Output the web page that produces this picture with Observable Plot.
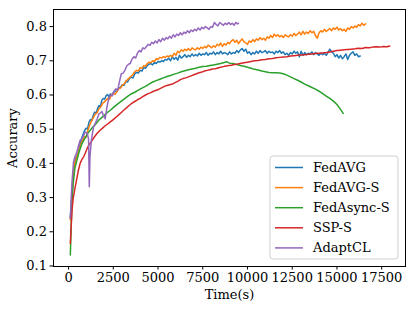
<!DOCTYPE html>
<html><head><meta charset="utf-8">
<script src="https://cdn.jsdelivr.net/npm/d3@7"></script>
<script src="https://cdn.jsdelivr.net/npm/@observablehq/plot@0.6"></script>
<style>body{margin:0;background:#fff} #chart{width:415px;height:311px}</style>
</head><body><div id="chart"></div>
<script>
const seriesNames = ["FedAVG", "FedAVG-S", "FedAsync-S", "SSP-S", "AdaptCL"];
const seriesColors = ["#1f77b4", "#ff7f0e", "#2ca02c", "#d62728", "#9467bd"];
const xTicks = [0, 2500, 5000, 7500, 10000, 12500, 15000, 17500];
const yTicks = [0.1, 0.2, 0.3, 0.4, 0.5, 0.6, 0.7, 0.8];

// [time (s), accuracy]
const fedAVG = [[100,0.240],[180,0.300],[260,0.360],[340,0.400],[420,0.418],[500,0.425],[580,0.440],[660,0.458],[740,0.474],[820,0.486],[900,0.497],[980,0.503],[1060,0.500],[1140,0.520],[1220,0.528],[1300,0.526],[1380,0.540],[1460,0.550],[1540,0.546],[1620,0.560],[1700,0.569],[1780,0.566],[1860,0.585],[1940,0.590],[2020,0.588],[2100,0.598],[2180,0.601],[2260,0.595],[2340,0.603],[2420,0.600],[2500,0.607],[2600,0.612],[2700,0.610],[2800,0.620],[2900,0.622],[3000,0.630],[3100,0.628],[3200,0.640],[3300,0.638],[3400,0.648],[3500,0.652],[3600,0.650],[3700,0.662],[3800,0.666],[3900,0.664],[4000,0.672],[4100,0.670],[4200,0.680],[4300,0.678],[4400,0.686],[4500,0.690],[4600,0.692],[4700,0.688],[4800,0.695],[4900,0.692],[5000,0.698],[5100,0.696],[5200,0.700],[5300,0.698],[5400,0.704],[5500,0.702],[5600,0.708],[5700,0.700],[5800,0.712],[5900,0.704],[6000,0.710],[6100,0.702],[6200,0.716],[6300,0.708],[6400,0.712],[6500,0.718],[6600,0.710],[6700,0.716],[6800,0.712],[6900,0.720],[7000,0.714],[7100,0.718],[7200,0.714],[7300,0.722],[7400,0.716],[7500,0.720],[7600,0.718],[7700,0.724],[7800,0.716],[7900,0.722],[8000,0.720],[8100,0.726],[8200,0.718],[8300,0.724],[8400,0.720],[8500,0.728],[8600,0.720],[8700,0.724],[8800,0.722],[8900,0.718],[9000,0.726],[9100,0.720],[9200,0.724],[9300,0.722],[9400,0.730],[9500,0.724],[9600,0.732],[9700,0.736],[9800,0.728],[9900,0.734],[10000,0.722],[10100,0.726],[10200,0.718],[10300,0.724],[10400,0.720],[10500,0.728],[10600,0.722],[10700,0.730],[10800,0.724],[10900,0.726],[11000,0.730],[11100,0.722],[11200,0.728],[11300,0.724],[11400,0.726],[11500,0.720],[11600,0.728],[11700,0.724],[11800,0.730],[11900,0.722],[12000,0.726],[12100,0.718],[12200,0.722],[12300,0.716],[12400,0.724],[12500,0.720],[12600,0.728],[12700,0.722],[12800,0.726],[12900,0.712],[13000,0.728],[13100,0.716],[13200,0.724],[13300,0.718],[13400,0.722],[13500,0.720],[13600,0.726],[13700,0.718],[13800,0.724],[13900,0.720],[14000,0.716],[14100,0.722],[14200,0.718],[14300,0.722],[14400,0.716],[14500,0.724],[14600,0.734],[14700,0.726],[14800,0.722],[14900,0.712],[15000,0.718],[15100,0.708],[15200,0.716],[15300,0.706],[15400,0.712],[15500,0.720],[15600,0.704],[15700,0.716],[15800,0.722],[15900,0.726],[16000,0.716],[16100,0.720],[16200,0.712],[16300,0.714]];

const fedAVGS = [[100,0.235],[180,0.300],[260,0.360],[340,0.400],[420,0.412],[500,0.425],[600,0.440],[700,0.458],[800,0.468],[900,0.478],[1000,0.478],[1100,0.500],[1200,0.515],[1300,0.525],[1400,0.535],[1500,0.545],[1600,0.548],[1700,0.560],[1800,0.565],[1900,0.575],[2000,0.580],[2100,0.585],[2200,0.590],[2300,0.588],[2400,0.600],[2500,0.605],[2600,0.602],[2700,0.610],[2800,0.618],[2900,0.620],[3000,0.628],[3100,0.632],[3200,0.640],[3300,0.645],[3400,0.650],[3500,0.655],[3600,0.660],[3700,0.668],[3800,0.672],[3900,0.670],[4000,0.680],[4100,0.678],[4200,0.686],[4300,0.684],[4400,0.692],[4500,0.696],[4600,0.694],[4700,0.700],[4800,0.698],[4900,0.706],[5000,0.704],[5100,0.710],[5200,0.708],[5300,0.712],[5400,0.710],[5500,0.714],[5600,0.712],[5700,0.716],[5800,0.712],[5900,0.722],[6000,0.716],[6100,0.728],[6200,0.724],[6300,0.732],[6400,0.728],[6500,0.734],[6600,0.730],[6700,0.736],[6800,0.730],[6900,0.738],[7000,0.734],[7100,0.732],[7200,0.738],[7300,0.734],[7400,0.740],[7500,0.736],[7600,0.742],[7700,0.738],[7800,0.746],[7900,0.742],[8000,0.738],[8100,0.744],[8200,0.740],[8300,0.748],[8400,0.744],[8500,0.752],[8600,0.742],[8700,0.750],[8800,0.746],[8900,0.754],[9000,0.750],[9100,0.758],[9200,0.762],[9300,0.754],[9400,0.760],[9500,0.750],[9600,0.758],[9700,0.764],[9800,0.756],[9900,0.752],[10000,0.748],[10100,0.758],[10200,0.754],[10300,0.762],[10400,0.756],[10500,0.764],[10600,0.760],[10700,0.768],[10800,0.762],[10900,0.766],[11000,0.760],[11100,0.770],[11200,0.766],[11300,0.774],[11400,0.768],[11500,0.778],[11600,0.772],[11700,0.776],[11800,0.770],[11900,0.774],[12000,0.768],[12100,0.776],[12200,0.772],[12300,0.770],[12400,0.776],[12500,0.772],[12600,0.780],[12700,0.774],[12800,0.778],[12900,0.784],[13000,0.776],[13100,0.786],[13200,0.778],[13300,0.784],[13400,0.780],[13500,0.788],[13600,0.782],[13700,0.786],[13800,0.774],[13900,0.766],[14000,0.782],[14100,0.788],[14200,0.784],[14300,0.792],[14400,0.786],[14500,0.790],[14600,0.794],[14700,0.788],[14800,0.796],[14900,0.792],[15000,0.798],[15100,0.790],[15200,0.794],[15300,0.788],[15400,0.792],[15500,0.786],[15600,0.796],[15700,0.792],[15800,0.800],[15900,0.796],[16000,0.802],[16100,0.798],[16200,0.806],[16300,0.802],[16400,0.810],[16500,0.804],[16600,0.808]];

const fedAsyncS = [[100,0.132],[140,0.200],[190,0.290],[260,0.340],[350,0.385],[470,0.410],[600,0.435],[750,0.458],[900,0.472],[1100,0.490],[1300,0.503],[1500,0.514],[1700,0.527],[1900,0.536],[2100,0.546],[2300,0.554],[2500,0.563],[2700,0.572],[2900,0.580],[3100,0.588],[3300,0.596],[3500,0.603],[3700,0.608],[3900,0.614],[4100,0.620],[4300,0.625],[4500,0.632],[4700,0.638],[4900,0.642],[5100,0.646],[5300,0.650],[5500,0.654],[5700,0.657],[5900,0.661],[6100,0.664],[6300,0.668],[6500,0.671],[6700,0.674],[6900,0.676],[7100,0.678],[7300,0.681],[7500,0.683],[7700,0.684],[7900,0.686],[8100,0.688],[8300,0.690],[8500,0.692],[8700,0.695],[8850,0.697],[9000,0.693],[9200,0.692],[9400,0.689],[9600,0.686],[9800,0.684],[10000,0.681],[10200,0.678],[10400,0.675],[10600,0.673],[10800,0.670],[11000,0.668],[11200,0.666],[11400,0.665],[11600,0.665],[11800,0.664],[12000,0.662],[12200,0.658],[12400,0.653],[12600,0.648],[12800,0.643],[13000,0.638],[13200,0.632],[13400,0.627],[13600,0.622],[13800,0.617],[14000,0.611],[14200,0.604],[14400,0.597],[14600,0.590],[14800,0.582],[15000,0.572],[15200,0.558],[15350,0.546]];

const sspS = [[100,0.166],[150,0.220],[200,0.265],[260,0.298],[350,0.325],[450,0.352],[550,0.380],[650,0.400],[750,0.412],[850,0.420],[950,0.432],[1050,0.445],[1150,0.455],[1300,0.466],[1450,0.478],[1600,0.488],[1750,0.496],[1900,0.503],[2050,0.510],[2200,0.516],[2350,0.522],[2500,0.528],[2650,0.535],[2800,0.542],[2950,0.549],[3100,0.556],[3250,0.563],[3400,0.570],[3550,0.576],[3700,0.581],[3850,0.586],[4000,0.590],[4150,0.595],[4300,0.600],[4450,0.604],[4600,0.607],[4750,0.611],[4900,0.614],[5050,0.617],[5200,0.621],[5350,0.625],[5500,0.628],[5650,0.630],[5800,0.632],[5950,0.636],[6100,0.640],[6250,0.645],[6400,0.648],[6550,0.650],[6700,0.653],[6850,0.656],[7000,0.659],[7150,0.662],[7300,0.665],[7450,0.667],[7600,0.670],[7750,0.672],[7900,0.674],[8050,0.676],[8200,0.677],[8350,0.679],[8500,0.681],[8650,0.683],[8800,0.685],[8950,0.686],[9100,0.687],[9250,0.689],[9400,0.690],[9600,0.692],[9800,0.694],[10000,0.696],[10200,0.698],[10400,0.700],[10600,0.701],[10800,0.703],[11000,0.704],[11200,0.706],[11400,0.707],[11600,0.709],[11800,0.710],[12000,0.711],[12200,0.712],[12400,0.714],[12600,0.715],[12800,0.716],[13000,0.717],[13200,0.718],[13400,0.719],[13600,0.720],[13800,0.721],[14000,0.722],[14200,0.723],[14400,0.724],[14600,0.726],[14800,0.728],[15000,0.730],[15200,0.731],[15400,0.732],[15600,0.733],[15800,0.734],[16000,0.735],[16200,0.737],[16400,0.736],[16600,0.739],[16800,0.738],[17000,0.740],[17200,0.741],[17400,0.740],[17600,0.742],[17800,0.741],[17950,0.743]];

const adaptCL = [[100,0.240],[150,0.300],[200,0.350],[280,0.405],[360,0.420],[450,0.430],[550,0.450],[650,0.468],[750,0.472],[850,0.482],[934,0.492],[1050,0.488],[1120,0.470],[1160,0.332],[1200,0.420],[1280,0.470],[1400,0.507],[1500,0.518],[1600,0.530],[1700,0.545],[1800,0.548],[1868,0.552],[1950,0.540],[2050,0.530],[2150,0.565],[2250,0.590],[2350,0.600],[2450,0.598],[2550,0.612],[2650,0.618],[2750,0.615],[2850,0.640],[2950,0.662],[3050,0.664],[3150,0.672],[3250,0.685],[3350,0.690],[3450,0.692],[3550,0.705],[3650,0.712],[3750,0.708],[3850,0.722],[3950,0.730],[4050,0.726],[4150,0.738],[4250,0.735],[4350,0.742],[4450,0.748],[4550,0.745],[4650,0.754],[4750,0.750],[4850,0.758],[4950,0.752],[5050,0.762],[5150,0.756],[5250,0.766],[5350,0.760],[5450,0.768],[5550,0.764],[5650,0.772],[5750,0.766],[5850,0.776],[5950,0.770],[6050,0.778],[6150,0.774],[6250,0.782],[6350,0.776],[6450,0.784],[6550,0.780],[6650,0.788],[6750,0.782],[6850,0.790],[6950,0.786],[7050,0.792],[7150,0.788],[7250,0.796],[7350,0.790],[7450,0.798],[7550,0.794],[7650,0.800],[7750,0.796],[7850,0.792],[7950,0.800],[8050,0.798],[8150,0.812],[8250,0.806],[8350,0.802],[8450,0.812],[8550,0.808],[8650,0.804],[8750,0.810],[8850,0.806],[8950,0.812],[9050,0.806],[9150,0.810],[9250,0.804],[9350,0.812],[9450,0.808],[9500,0.810]];

const allSeries = [fedAVG, fedAVGS, fedAsyncS, sspS, adaptCL];
const data = [];
allSeries.forEach((arr, i) => arr.forEach(([t, a]) => data.push({series: seriesNames[i], time: t, acc: a})));

const FONT = "DejaVu Serif";
const chart = Plot.plot({
  width: 415, height: 311,
  marginLeft: 53, marginRight: 10, marginTop: 9, marginBottom: 45,
  style: {fontFamily: FONT, fontSize: "13px", background: "white", color: "black", overflow: "visible"},
  x: {domain: [-840, 18830]},
  y: {domain: [0.0985, 0.85]},
  color: {domain: seriesNames, range: seriesColors},
  marks: [
    Plot.line(data, {x: "time", y: "acc", z: "series", stroke: "series", strokeWidth: 1.5}),
    Plot.frame({stroke: "black", strokeWidth: 1}),
    Plot.axisX({ticks: xTicks, tickFormat: d => String(d), tickSize: 3.5, tickPadding: 3, fontSize: 13,
      label: "Time(s)", labelAnchor: "center", labelArrow: "none", labelOffset: 32}),
    Plot.axisY({ticks: yTicks, tickFormat: d3.format(".1f"), tickSize: 3.5, tickPadding: 3, fontSize: 13,
      label: "Accurary", labelAnchor: "center", labelArrow: "none", labelOffset: 46})
  ]
});
document.getElementById("chart").appendChild(chart);

// legend (inside the plot, lower right)
const svg = d3.select(chart);
const lg = svg.append("g").attr("font-family", FONT).attr("font-size", 13).attr("text-anchor", "start");
lg.append("rect").attr("x", 270).attr("y", 156).attr("width", 128).attr("height", 103)
  .attr("rx", 3).attr("fill", "white").attr("fill-opacity", 0.85).attr("stroke", "#d0d0d0");
seriesNames.forEach((name, i) => {
  const cy = 167.5 + i * 20.1;
  lg.append("line").attr("x1", 275).attr("x2", 303).attr("y1", cy).attr("y2", cy)
    .attr("stroke", seriesColors[i]).attr("stroke-width", 1.5);
  lg.append("text").attr("x", 313).attr("y", cy).attr("dy", "0.35em").attr("fill", "black")
    .attr("text-anchor", "start").text(name);
});
</script></body></html>
